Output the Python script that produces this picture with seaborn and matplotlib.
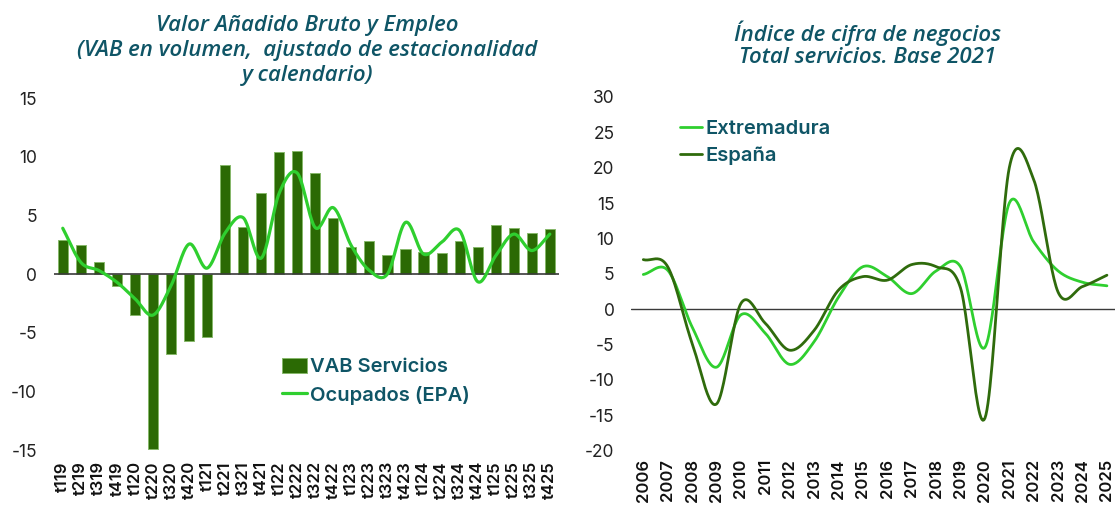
import numpy as np
import pandas as pd
import matplotlib
matplotlib.use("Agg")
import matplotlib.pyplot as plt
import seaborn as sns
from matplotlib.patches import Patch
from matplotlib.lines import Line2D

# ---------------- data ----------------
quarters = ["t119", "t219", "t319", "t419", "t120", "t220", "t320", "t420",
            "t121", "t221", "t321", "t421", "t122", "t222", "t322", "t422",
            "t123", "t223", "t323", "t423", "t124", "t224", "t324", "t424",
            "t125", "t225", "t325", "t425"]
vab_servicios = [2.9, 2.5, 1.05, -1.0, -3.5, -14.9, -6.8, -5.75,
                 -5.4, 9.3, 4.0, 6.9, 10.4, 10.5, 8.6, 4.8,
                 2.3, 2.8, 1.65, 2.15, 1.9, 1.8, 2.8, 2.3,
                 4.15, 3.9, 3.5, 3.85]
ocupados_epa = [3.9, 1.0, 0.3, -0.7, -2.1, -3.5, -1.0, 2.55,
                0.5, 3.5, 4.8, 1.35, 6.9, 8.6, 3.95, 5.65,
                2.4, 0.3, 0.0, 4.4, 1.7, 2.7, 3.7, -0.65,
                1.55, 3.4, 2.0, 3.4]

years = [str(y) for y in range(2006, 2026)]
extremadura = [4.9, 5.5, -2.5, -8.2, -0.8, -3.4, -7.8, -4.6, 1.7, 6.0,
               4.6, 2.2, 5.4, 6.0, -5.4, 15.0, 9.5, 5.4, 3.8, 3.3]
espana = [7.0, 6.0, -4.8, -13.4, 0.8, -2.0, -5.8, -3.0, 2.7, 4.6,
          4.1, 6.3, 6.0, 3.0, -15.4, 20.0, 18.3, 2.4, 3.2, 4.8]

# ---------------- style ----------------
BAR = "#2b6a04"
BAR_EDGE = "#86b86a"
LIGHT = "#2fcf2f"
DARK = "#2f6b0c"
TEAL = "#0f5566"
TICK = "#222222"
TITLE_FONT = ["Open Sans", "DejaVu Sans"]


def smooth(values, n=24):
    """Catmull-Rom style smoothing of a line (as a 'smoothed line' chart)."""
    p = np.asarray(values, dtype=float)
    x = np.arange(len(p), dtype=float)
    pp = np.concatenate([[2 * p[0] - p[1]], p, [2 * p[-1] - p[-2]]])
    xs, ys = [], []
    for i in range(len(p) - 1):
        p0, p1, p2, p3 = pp[i], pp[i + 1], pp[i + 2], pp[i + 3]
        m1 = (p2 - p0) / 2.0
        m2 = (p3 - p1) / 2.0
        t = np.linspace(0, 1, n, endpoint=(i == len(p) - 2))
        h00 = 2 * t**3 - 3 * t**2 + 1
        h10 = t**3 - 2 * t**2 + t
        h01 = -2 * t**3 + 3 * t**2
        h11 = t**3 - t**2
        ys.append(h00 * p1 + h10 * m1 + h01 * p2 + h11 * m2)
        xs.append(x[i] + t)
    return np.concatenate(xs), np.concatenate(ys)


sns.set_theme(style="white")
plt.rcParams["font.family"] = ["Inter", "DejaVu Sans"]

fig = plt.figure(figsize=(11.15, 5.07), dpi=100)

# ---------------- left chart ----------------
axL = fig.add_axes([0.0482, 0.1124, 0.4530, 0.6943])
dfL = pd.DataFrame({"q": quarters, "vab": vab_servicios})
sns.barplot(data=dfL, x="q", y="vab", ax=axL, color=BAR, width=0.56,
            edgecolor=BAR_EDGE, linewidth=0.7, saturation=1)
for p in axL.patches:
    p.set_facecolor(BAR)
xs, ys = smooth(ocupados_epa)
sns.lineplot(x=xs, y=ys, ax=axL, color=LIGHT, linewidth=2.3, sort=False,
             estimator=None, zorder=4)
axL.axhline(0, color="#3a3a3a", linewidth=1.2, zorder=3)
axL.set_xlim(-0.5, len(quarters) - 0.5)
axL.set_ylim(-15, 15)
axL.set_yticks([-15, -10, -5, 0, 5, 10, 15])
axL.set_yticklabels(["-15", "-10", "-5", "0", "5", "10", "15"])
axL.set_xticks(range(len(quarters)))
axL.set_xticklabels(quarters, rotation=90, fontweight="semibold")
axL.tick_params(axis="y", length=0, pad=12, labelsize=12.5, labelcolor=TICK)
axL.tick_params(axis="x", length=0, pad=8, labelsize=12, labelcolor="#111111")
axL.set_xlabel("")
axL.set_ylabel("")
for s in axL.spines.values():
    s.set_visible(False)

legL = axL.legend(
    handles=[Patch(facecolor=BAR, edgecolor=BAR_EDGE, linewidth=0.7),
             Line2D([0], [0], color=LIGHT, linewidth=2.3)],
    labels=["VAB Servicios", "Ocupados (EPA)"],
    loc="upper left", bbox_to_anchor=(0.452, 0.262), frameon=False,
    handlelength=1.25, handleheight=0.8, handletextpad=0.15,
    labelspacing=0.45, borderaxespad=0, borderpad=0,
    prop={"size": 14.5, "weight": "semibold"})
for t in legL.get_texts():
    t.set_color(TEAL)

for txt, yy in [("Valor Añadido Bruto y Empleo", 0.950),
                ("(VAB en volumen,  ajustado de estacionalidad", 0.901),
                ("y calendario)", 0.852)]:
    fig.text(0.2755, yy, txt, ha="center", va="center", color=TEAL,
             fontsize=16, style="italic", fontweight="semibold",
             family=TITLE_FONT)

# ---------------- right chart ----------------
axR = fig.add_axes([0.5660, 0.111, 0.4377, 0.698])
xe, ye = smooth(extremadura)
xp, yp = smooth(espana)
sns.lineplot(x=xe, y=ye, ax=axR, color=LIGHT, linewidth=2.0, sort=False,
             estimator=None, label="Extremadura", zorder=3)
sns.lineplot(x=xp, y=yp, ax=axR, color=DARK, linewidth=2.0, sort=False,
             estimator=None, label="España", zorder=4)
axR.axhline(0, color="#3a3a3a", linewidth=1.0, zorder=2)
axR.set_xlim(-0.5, len(years) - 0.5)
axR.set_ylim(-20, 30)
axR.set_yticks(range(-20, 31, 5))
axR.set_yticklabels([str(v) for v in range(-20, 31, 5)])
axR.set_xticks(range(len(years)))
axR.set_xticklabels(years, rotation=90, fontweight="semibold")
axR.tick_params(axis="y", length=0, pad=12, labelsize=12.5, labelcolor=TICK)
axR.tick_params(axis="x", length=0, pad=6, labelsize=12, labelcolor="#111111")
axR.set_xlabel("")
axR.set_ylabel("")
for s in axR.spines.values():
    s.set_visible(False)

legR = axR.legend(loc="upper left", bbox_to_anchor=(0.10, 0.935),
                  frameon=False, handlelength=1.1, handletextpad=0.15,
                  labelspacing=0.45, borderaxespad=0, borderpad=0,
                  prop={"size": 14.5, "weight": "semibold"})
for t in legR.get_texts():
    t.set_color(TEAL)

for txt, yy in [("Índice de cifra de negocios", 0.935),
                ("Total servicios. Base 2021", 0.886)]:
    fig.text(0.778, yy, txt, ha="center", va="center", color=TEAL,
             fontsize=16, style="italic", fontweight="semibold",
             family=TITLE_FONT)

fig.savefig("out.png", dpi=100, facecolor="white")
